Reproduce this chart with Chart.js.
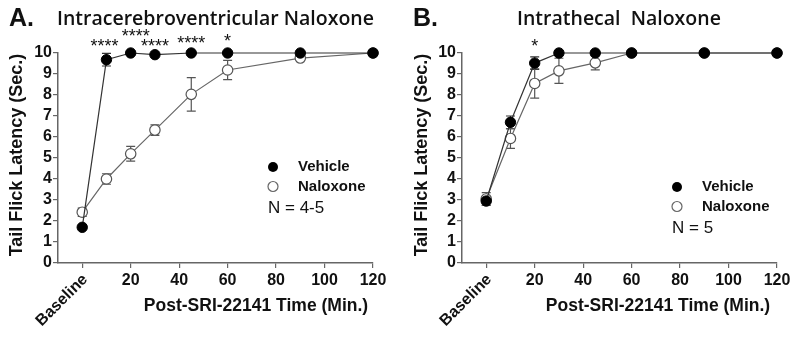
<!DOCTYPE html>
<html>
<head>
<meta charset="utf-8">
<script src="https://cdn.jsdelivr.net/npm/chart.js@4.4.0/dist/chart.umd.min.js"></script>
<style>
  body { margin: 0; background: #fff; }
  #wrap { position: relative; width: 800px; height: 337px; }
  .panel { position: absolute; top: 0; width: 400px; height: 337px; }
</style>
</head>
<body>
<div id="wrap">
  <div class="panel" style="left:0"><canvas id="chartA" width="400" height="337"></canvas></div>
  <div class="panel" style="left:400px"><canvas id="chartB" width="400" height="337"></canvas></div>
</div>
<script>
// time points (min), 0 = baseline
const times = [0, 10, 20, 30, 45, 60, 90, 120];

// Panel A - intracerebroventricular naloxone
const vehicleA = [1.7, 9.68, 10, 9.92, 10, 10, 10, 10];
const vehicleSemA = [0.08, 0.3, 0, 0.04, 0, 0, 0, 0];
const naloxoneA = [2.42, 4.0, 5.2, 6.33, 8.03, 9.19, 9.76, 10];
const naloxoneSemA = [0.2, 0.25, 0.35, 0.25, 0.8, 0.46, 0.08, 0];
const starsA = ["", "****", "****", "****", "****", "*", "", ""];

// Panel B - intrathecal naloxone
const vehicleB = [2.95, 6.7, 9.52, 10, 10, 10, 10, 10];
const vehicleSemB = [0.2, 0.3, 0.3, 0, 0, 0, 0, 0];
const naloxoneB = [3.05, 5.93, 8.55, 9.15, 9.53, 10, 10, 10];
const naloxoneSemB = [0.3, 0.47, 0.7, 0.6, 0.33, 0, 0, 0];
const starsB = ["", "", "*", "", "", "", "", ""];

const xTicks = [0, 20, 40, 60, 80, 100, 120];
const xTickLabels = ["Baseline", "20", "40", "60", "80", "100", "120"];
const yTicks = [0, 1, 2, 3, 4, 5, 6, 7, 8, 9, 10];

const FONT = "'Liberation Sans', Arial, sans-serif";

function pts(ys) {
  return times.map((t, i) => ({ x: t, y: ys[i] }));
}

// error bars drawn under the markers
const errorBars = {
  id: "errorBars",
  beforeDatasetsDraw(chart) {
    const { ctx, scales: { x, y } } = chart;
    ctx.save();
    chart.data.datasets.forEach((ds) => {
      ctx.strokeStyle = ds.errColor;
      ctx.lineWidth = 1.2;
      ds.sem.forEach((e, i) => {
        if (!e) return;
        const px = x.getPixelForValue(times[i]);
        const hi = y.getPixelForValue(ds.data[i].y + e);
        const lo = y.getPixelForValue(ds.data[i].y - e);
        ctx.beginPath();
        ctx.moveTo(px, hi); ctx.lineTo(px, lo);
        ctx.moveTo(px - 4.5, hi); ctx.lineTo(px + 4.5, hi);
        ctx.moveTo(px - 4.5, lo); ctx.lineTo(px + 4.5, lo);
        ctx.stroke();
      });
    });
    ctx.restore();
  },
};

// titles, axis titles, legend, stars, rotated Baseline label
const decorations = {
  id: "decorations",
  afterDraw(chart) {
    const o = chart.options.plugins.decorations;
    const { ctx, scales: { x, y } } = chart;
    ctx.save();
    ctx.fillStyle = "#111";

    // panel letter + title
    ctx.textBaseline = "alphabetic";
    ctx.textAlign = "left";
    ctx.font = "bold 25px " + FONT;
    ctx.fillText(o.letter, o.letterX, 26);
    ctx.font = "600 19.5px 'Open Sans', sans-serif";
    ctx.fillText(o.title, o.titleX, 25);

    // y axis title
    ctx.save();
    ctx.translate(o.yTitleX, 155);
    ctx.rotate(-Math.PI / 2);
    ctx.textAlign = "center";
    ctx.textBaseline = "middle";
    ctx.font = "bold 18px " + FONT;
    ctx.fillText("Tail Flick Latency (Sec.)", 0, 0);
    ctx.restore();

    // x axis title
    ctx.textAlign = "center";
    ctx.textBaseline = "middle";
    ctx.font = "bold 17.5px " + FONT;
    ctx.fillText("Post-SRI-22141 Time (Min.)", o.xTitleX, 306);

    // rotated Baseline tick label
    ctx.save();
    ctx.translate(x.getPixelForValue(xTicks[0]) + 3, y.bottom + 14);
    ctx.rotate(-Math.PI / 4);
    ctx.textAlign = "right";
    ctx.textBaseline = "middle";
    ctx.font = "bold 16px " + FONT;
    ctx.fillText(xTickLabels[0], 0, 0);
    ctx.restore();

    // significance stars
    ctx.font = "18px " + FONT;
    ctx.textAlign = "center";
    ctx.textBaseline = "middle";
    o.stars.forEach((s, i) => {
      if (!s) return;
      const raise = o.raise[i] || 0;
      ctx.fillText(s, x.getPixelForValue(times[i]) + (o.starDx[i] || 0),
        y.getPixelForValue(10) - 6 - raise);
    });

    // legend
    const lx = o.legendX, ly = o.legendY;
    ctx.lineWidth = 1.2;
    ctx.beginPath();
    ctx.arc(lx, ly, 5, 0, Math.PI * 2);
    ctx.fillStyle = "#000";
    ctx.fill();
    ctx.beginPath();
    ctx.arc(lx, ly + 19.5, 5, 0, Math.PI * 2);
    ctx.fillStyle = "#fff";
    ctx.fill();
    ctx.strokeStyle = "#666";
    ctx.stroke();
    ctx.fillStyle = "#111";
    ctx.textAlign = "left";
    ctx.font = "bold 15px " + FONT;
    ctx.fillText("Vehicle", lx + 25, ly);
    ctx.fillText("Naloxone", lx + 25, ly + 19.5);
    ctx.font = "17px " + FONT;
    ctx.fillText(o.nText, lx - 5, ly + 41);
    ctx.restore();
  },
};

function makeChart(id, veh, vehSem, nal, nalSem, yWidth, rightPad, deco) {
  new Chart(document.getElementById(id), {
    type: "scatter",
    data: {
      datasets: [
        {
          label: "Vehicle",
          data: pts(veh),
          sem: vehSem,
          errColor: "#333",
          showLine: true,
          borderColor: "#333",
          borderWidth: 1.2,
          pointRadius: 5.2,
          pointBackgroundColor: "#000",
          pointBorderColor: "#000",
          pointBorderWidth: 1,
          clip: false,
          order: 0,
        },
        {
          label: "Naloxone",
          data: pts(nal),
          sem: nalSem,
          errColor: "#555",
          showLine: true,
          borderColor: "#666",
          borderWidth: 1.2,
          pointRadius: 5.2,
          pointBackgroundColor: "#fff",
          pointBorderColor: "#555",
          pointBorderWidth: 1.2,
          clip: false,
          order: 1,
        },
      ],
    },
    options: {
      responsive: false,
      animation: false,
      layout: { padding: { left: 0, right: rightPad, top: 53, bottom: 0 } },
      scales: {
        x: {
          type: "linear",
          min: -10,
          max: 120,
          afterBuildTicks: (s) => { s.ticks = xTicks.map((v) => ({ value: v })); },
          afterFit: (s) => { s.height = 74; },
          border: { color: "#666", width: 1.5 },
          grid: { drawOnChartArea: false, color: "#666", tickLength: 5, lineWidth: 1.2 },
          ticks: {
            color: "#111",
            font: { family: FONT, size: 16, weight: "bold" },
            padding: 3,
            maxRotation: 0,
            autoSkip: false,
            callback: (v) => { const i = xTicks.indexOf(v); return i > 0 ? xTickLabels[i] : ""; },
          },
        },
        y: {
          min: 0,
          max: 10,
          afterBuildTicks: (s) => { s.ticks = yTicks.map((v) => ({ value: v })); },
          afterFit: (s) => { s.width = yWidth; },
          border: { color: "#666", width: 1.5 },
          grid: { drawOnChartArea: false, color: "#666", tickLength: 5, lineWidth: 1.2 },
          ticks: {
            color: "#111",
            font: { family: FONT, size: 16, weight: "bold" },
            padding: 1,
            autoSkip: false,
          },
        },
      },
      plugins: {
        legend: { display: false },
        tooltip: { enabled: false },
        decorations: deco,
      },
    },
    plugins: [errorBars, decorations],
  });
}

makeChart("chartA", vehicleA, vehicleSemA, naloxoneA, naloxoneSemA, 58, 27, {
  letter: "A.", letterX: 9, title: "Intracerebroventricular Naloxone", titleX: 57,
  yTitleX: 17, xTitleX: 256, stars: starsA, raise: [0, 0, 10, 0, 3, 5, 0, 0],
  starDx: [0, -2, 5, 0, 0, 0, 0, 0],
  legendX: 273, legendY: 167, nText: "N = 4-5",
});

makeChart("chartB", vehicleB, vehicleSemB, naloxoneB, naloxoneSemB, 62, 23, {
  letter: "B.", letterX: 13, title: "Intrathecal  Naloxone", titleX: 117,
  yTitleX: 22, xTitleX: 258, stars: starsB, raise: [0, 0, 0, 0, 0, 0, 0, 0],
  starDx: [0, 0, 0, 0, 0, 0, 0, 0],
  legendX: 277, legendY: 187, nText: "N = 5",
});
</script>
</body>
</html>
